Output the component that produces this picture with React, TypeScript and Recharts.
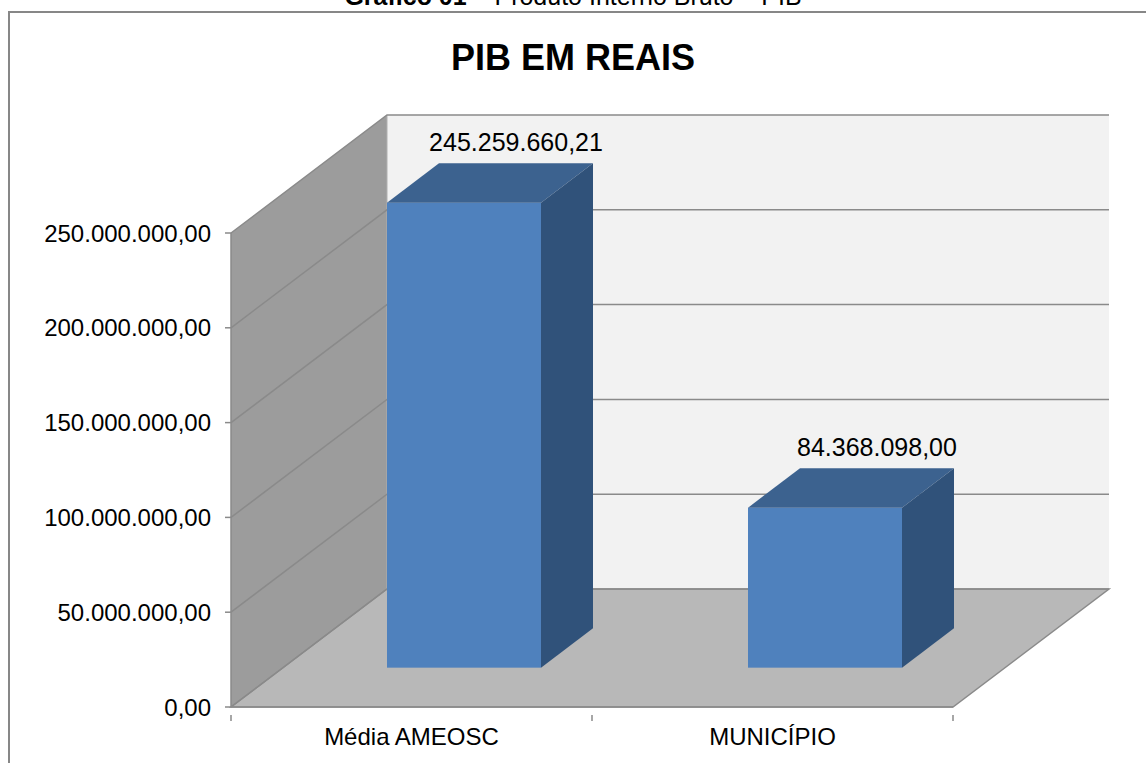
import { BarChart, Bar, XAxis, YAxis, LabelList, Customized } from "recharts";

const CATEGORIES = ["Média AMEOSC", "MUNICÍPIO"];
const VALUES = [245259660.21, 84368098.0];
const Y_TICKS = [0, 50000000, 100000000, 150000000, 200000000, 250000000];
const Y_MAX = 250000000;

const data = CATEGORIES.map((name, i) => ({ name, value: VALUES[i] }));

// plot area (matches the margins below)
const W = 1146;
const H = 763;
const LEFT = 231;
const RIGHT = 953;
const TOP = 233;
const BOTTOM = 707;
// depth of the 3d box and of the bars (one third of it)
const DX = 156;
const DY = 118;
const BX = DX / 3;
const BY = DY / 3;

const GRID = "#8a8a8a";
const FONT = "'Liberation Sans', Arial, sans-serif";

function brl(v: number) {
  const [int, dec] = v.toFixed(2).split(".");
  return int.replace(/\B(?=(\d{3})+(?!\d))/g, ".") + "," + dec;
}

const yPix = (v: number) => BOTTOM - (v / Y_MAX) * (BOTTOM - TOP);

function Walls() {
  return (
    <g>
      <polygon
        points={`${LEFT},${TOP} ${LEFT + DX},${TOP - DY} ${LEFT + DX},${BOTTOM - DY} ${LEFT},${BOTTOM}`}
        fill="#9c9c9c"
      />
      <rect x={LEFT + DX} y={TOP - DY} width={RIGHT - LEFT} height={BOTTOM - TOP} fill="#f2f2f2" />
      <polygon
        points={`${LEFT},${BOTTOM} ${RIGHT},${BOTTOM} ${RIGHT + DX},${BOTTOM - DY} ${LEFT + DX},${BOTTOM - DY}`}
        fill="#b8b8b8"
        stroke={GRID}
        strokeWidth={1.5}
      />
      <line x1={LEFT + DX} y1={TOP - DY} x2={LEFT + DX} y2={BOTTOM - DY} stroke="#b0b0b0" />
      {Y_TICKS.map((t) => {
        const y = yPix(t);
        return (
          <polyline
            key={t}
            points={`${LEFT},${y} ${LEFT + DX},${y - DY} ${RIGHT + DX},${y - DY}`}
            fill="none"
            stroke={GRID}
            strokeWidth={1.5}
          />
        );
      })}
    </g>
  );
}

function Box3D(props: any) {
  const { x, y, width, height } = props;
  if (!height) return null;
  const fx = x + BX;
  const fy = y - BY;
  const w = width;
  return (
    <g>
      <rect x={fx} y={fy} width={w} height={height} fill="#4f81bd" />
      <polygon
        points={`${fx},${fy} ${fx + BX},${fy - BY} ${fx + w + BX},${fy - BY} ${fx + w},${fy}`}
        fill="#3c628f"
      />
      <polygon
        points={`${fx + w},${fy} ${fx + w + BX},${fy - BY} ${fx + w + BX},${fy + height - BY} ${fx + w},${fy + height}`}
        fill="#30527a"
      />
    </g>
  );
}

function ValueLabel(props: any) {
  const { x, y, width, value } = props;
  return (
    <text
      x={x + width / 2 + 2 * BX}
      y={y - 2 * BY - 12}
      textAnchor="middle"
      fontSize={25}
      fontFamily={FONT}
      fill="#000"
    >
      {brl(Number(value))}
    </text>
  );
}

function CategoryTick(props: any) {
  const { x, y, payload, index } = props;
  const half = payload.offset ?? 0;
  return (
    <g>
      <line x1={x - half} y1={y} x2={x - half} y2={y + 6} stroke={GRID} strokeWidth={1.5} />
      {index === CATEGORIES.length - 1 && (
        <line x1={x + half} y1={y} x2={x + half} y2={y + 6} stroke={GRID} strokeWidth={1.5} />
      )}
      <text x={x} y={y + 30} textAnchor="middle" fontSize={24} fontFamily={FONT} fill="#000">
        {payload.value}
      </text>
    </g>
  );
}

export default function App() {
  return (
    <div style={{ position: "absolute", left: 0, top: 0, width: W, height: H, background: "#fff", overflow: "hidden" }}>
      <div
        style={{
          position: "absolute",
          left: 0,
          width: W,
          top: -19,
          textAlign: "center",
          fontFamily: FONT,
          fontSize: 25,
          lineHeight: "30px",
          color: "#000",
        }}
      >
        <b>Gráfico 01</b> – Produto Interno Bruto – PIB
      </div>
      <div
        style={{
          position: "absolute",
          left: 8,
          top: 11,
          width: W,
          height: H,
          borderLeft: "2px solid #878787",
          borderTop: "2px solid #878787",
        }}
      />
      <div
        style={{
          position: "absolute",
          left: 0,
          width: W,
          top: 36,
          textAlign: "center",
          fontFamily: FONT,
          fontSize: 36,
          fontWeight: "bold",
          lineHeight: "44px",
          color: "#000",
        }}
      >
        PIB EM REAIS
      </div>
      <div style={{ position: "absolute", left: 0, top: 0 }}>
        <BarChart
          width={W}
          height={H}
          data={data}
          margin={{ top: TOP, right: W - RIGHT, bottom: 0, left: 0 }}
          barSize={154}
        >
          <Customized component={<Walls />} />
          <XAxis
            dataKey="name"
            height={H - BOTTOM}
            axisLine={{ stroke: GRID, strokeWidth: 1.5 }}
            tickLine={false}
            tick={<CategoryTick />}
            interval={0}
          />
          <YAxis
            width={LEFT}
            domain={[0, Y_MAX]}
            ticks={Y_TICKS}
            interval={0}
            tickFormatter={brl}
            tickSize={6}
            tickMargin={14}
            axisLine={{ stroke: GRID, strokeWidth: 1.5 }}
            tickLine={{ stroke: GRID, strokeWidth: 1.5 }}
            tick={{ fontSize: 24, fontFamily: FONT, fill: "#000" }}
          />
          <Bar dataKey="value" shape={<Box3D />} isAnimationActive={false}>
            <LabelList dataKey="value" content={<ValueLabel />} />
          </Bar>
        </BarChart>
      </div>
    </div>
  );
}
